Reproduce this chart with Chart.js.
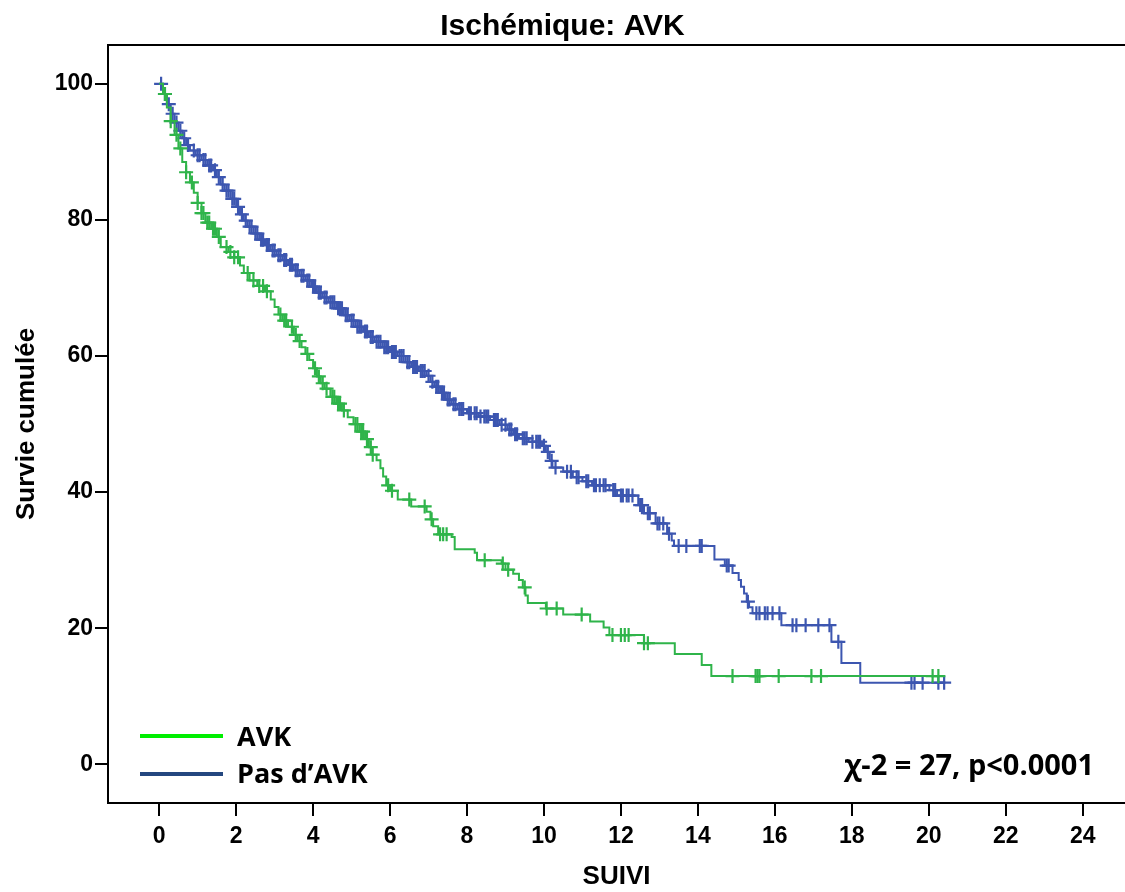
<!DOCTYPE html>
<html>
<head>
<meta charset="utf-8">
<script src="https://cdn.jsdelivr.net/npm/chart.js@4.4.1/dist/chart.umd.min.js"></script>
<style>
  html, body { margin: 0; padding: 0; background: #fff; }
</style>
</head>
<body>
<canvas id="km" width="1125" height="892"></canvas>
<script>
// Kaplan-Meier steps (time in years, survival in %)
const avkTime = [0, 0.1, 0.2, 0.3, 0.4, 0.5, 0.6, 0.7, 0.8, 0.9, 1.0, 1.1, 1.2, 1.35, 1.5, 1.6, 1.8, 1.95,
  2.1, 2.2, 2.35, 2.55, 2.75, 2.9, 3.0, 3.1, 3.2, 3.35, 3.5, 3.6, 3.7, 3.8, 3.9, 4.0, 4.1, 4.2, 4.3, 4.45,
  4.6, 4.75, 4.9, 5.05, 5.2, 5.35, 5.45, 5.52, 5.65, 5.75, 5.82, 5.9, 6.0, 6.2, 6.55, 6.95, 7.05, 7.12,
  7.25, 7.6, 7.68, 8.2, 8.26, 8.9, 9.0, 9.2, 9.35, 9.45, 9.52, 9.58, 10.05, 10.5, 11.2, 11.55, 11.7,
  12.6, 13.4, 14.1, 14.35, 20.25];
const avkSurv = [100, 98.5, 96.5, 94.5, 92.5, 90.5, 88.5, 87, 85.5, 84, 82.5, 81, 79.6, 78.7, 77.5, 76, 75.3, 74.5,
  73.3, 72.2, 71.1, 70.3, 69.5, 68.3, 67.2, 66.1, 65.2, 64.3, 63.1, 62.2, 61.3, 60.3, 59.4, 58.2, 57.0, 56.0, 55.2, 54.0,
  53.0, 52.0, 51.0, 50.0, 48.9, 47.8, 46.6, 45.5, 44.7, 43.5, 42.3, 41.0, 40.2, 38.9, 37.9, 37.1, 36.0, 35.0,
  33.8, 33.4, 31.6, 31.1, 30.0, 29.5, 28.6, 28.0, 27.1, 26.0, 24.8, 23.7, 22.9, 22.0, 21.0, 20.1, 19.0,
  17.8, 16.2, 14.6, 12.97, 12.97];
const avkCensor = [0.15, 0.3, 0.45, 0.55, 0.7, 0.85, 1.0, 1.1, 1.15, 1.25, 1.3, 1.4, 1.45, 1.55, 1.75, 1.85, 1.95,
  2.05, 2.3, 2.45, 2.6, 2.7, 2.8, 3.15, 3.25, 3.3, 3.45, 3.55, 3.65, 3.85, 4.05, 4.15, 4.25, 4.35, 4.5, 4.55,
  4.65, 4.7, 4.8, 5.1, 5.15, 5.25, 5.3, 5.4, 5.5, 5.55, 5.95, 6.05, 6.5, 6.9, 7.08, 7.3, 7.38, 7.47, 8.46,
  8.93, 9.07, 9.5, 10.07, 10.33, 10.98, 11.78, 12.0, 12.1, 12.2, 12.6, 12.7, 14.9, 15.5, 15.55, 15.6, 16.1,
  16.95, 17.2, 20.1, 20.25];

const noAvkTime = [0, 0.1, 0.2, 0.3, 0.4, 0.5, 0.6, 0.7, 0.8, 0.95, 1.1, 1.25, 1.4, 1.5, 1.6, 1.7, 1.85,
  2.0, 2.1, 2.2, 2.3, 2.45, 2.6, 2.75, 2.9, 3.05, 3.2, 3.35, 3.5, 3.65, 3.8, 3.95, 4.1, 4.25, 4.4, 4.6, 4.8,
  4.95, 5.1, 5.3, 5.45, 5.6, 5.8, 6.0, 6.2, 6.4, 6.55, 6.75, 6.95, 7.05, 7.15, 7.3, 7.45, 7.6, 7.75, 8.0,
  8.3, 8.6, 8.85, 9.05, 9.2, 9.35, 9.6, 9.95, 10.05, 10.15, 10.22, 10.5, 10.75, 11.0, 11.25, 11.7, 11.9,
  12.45, 12.6, 12.9, 13.2, 13.32, 13.38, 14.43, 14.7, 14.9, 15.06, 15.12, 15.2, 15.27, 15.33, 15.42,
  16.17, 17.47, 17.73, 18.22, 20.4];
const noAvkSurv = [100, 98.5, 97.0, 95.6, 94.3, 93.1, 92.0, 91.0, 90.2, 89.5, 88.8, 88.0, 87.3, 86.3, 85.2, 84.3, 83.1,
  81.9, 80.8, 79.9, 79.0, 78.0, 77.1, 76.3, 75.5, 74.8, 74.1, 73.4, 72.6, 71.8, 71.1, 70.2, 69.3, 68.6, 67.9, 67.0, 66.0,
  65.2, 64.3, 63.6, 62.8, 62.1, 61.3, 60.6, 60.0, 59.1, 58.4, 57.8, 57.1, 56.2, 55.5, 54.6, 53.6, 52.9, 52.2, 51.6,
  51.1, 50.6, 49.9, 49.2, 48.5, 47.9, 47.4, 46.8, 45.9, 44.6, 43.6, 43.0, 42.2, 41.6, 41.0, 40.3, 39.5,
  38.1, 36.9, 35.4, 33.9, 32.9, 32.1, 30.1, 29.2, 28.1, 27.1, 26.1, 25.1, 23.9, 23.1, 22.2,
  20.45, 18.0, 14.9, 12.0, 12.0];
const noAvkCensor = [0.05, 0.15, 0.25, 0.35, 0.45, 0.55, 0.65, 0.75, 0.9, 1.0, 1.05, 1.15, 1.2, 1.3, 1.35, 1.45,
  1.55, 1.65, 1.75, 1.8, 1.9, 1.95, 2.05, 2.15, 2.25, 2.35, 2.4, 2.5, 2.55, 2.65, 2.7, 2.8, 2.85, 2.95, 3.0,
  3.1, 3.15, 3.25, 3.3, 3.4, 3.45, 3.55, 3.6, 3.7, 3.75, 3.85, 3.9, 4.0, 4.05, 4.15, 4.2, 4.3, 4.35, 4.45,
  4.5, 4.55, 4.65, 4.7, 4.75, 4.85, 4.9, 5.0, 5.05, 5.15, 5.2, 5.25, 5.35, 5.4, 5.5, 5.55, 5.65, 5.7, 5.75,
  5.85, 5.9, 5.95, 6.05, 6.1, 6.15, 6.25, 6.3, 6.35, 6.45, 6.5, 6.6, 6.65, 6.7, 6.8, 6.85, 6.9, 7.0, 7.1,
  7.2, 7.25, 7.35, 7.4, 7.5, 7.55, 7.65, 7.7, 7.8, 7.85, 7.9, 8.05, 8.1, 8.2, 8.25, 8.35, 8.45, 8.5, 8.55,
  8.7, 8.75, 8.8, 8.9, 9.0, 9.1, 9.15, 9.25, 9.3, 9.45, 9.5, 9.55, 9.7, 9.8, 9.85, 9.9, 10.0, 10.1, 10.2,
  10.3, 10.6, 10.7, 10.85, 10.9, 11.1, 11.15, 11.3, 11.35, 11.45, 11.55, 11.6, 11.8, 11.85, 12.0, 12.05,
  12.15, 12.2, 12.3, 12.5, 12.55, 12.7, 12.75, 12.95, 13.0, 13.1, 13.25, 13.5, 13.7, 14.05, 14.1, 14.75,
  14.8, 15.3, 15.52, 15.6, 15.74, 15.81, 15.94, 16.12, 16.46, 16.56, 16.8, 17.13, 17.42, 17.65, 19.55,
  19.63, 19.84, 20.25, 20.4];

const xTicks = [0, 2, 4, 6, 8, 10, 12, 14, 16, 18, 20, 22, 24];
const yTicks = [0, 20, 40, 60, 80, 100];

const GREEN = "#2fb44a";
const BLUE = "#3c56b0";

function steps(times, surv) {
  return times.map((t, i) => ({ x: t, y: surv[i] }));
}

// survival level at a censoring time = last step at or before it
function censorPoints(censor, times, surv) {
  return censor.map((t) => {
    let y = surv[0];
    for (let i = 0; i < times.length; i++) {
      if (times[i] <= t) y = surv[i];
    }
    return { x: t, y: y };
  });
}

const frame = {
  id: "frame",
  afterDraw(chart) {
    const ctx = chart.ctx;
    const a = chart.chartArea;
    ctx.save();
    ctx.strokeStyle = "#000";
    ctx.lineWidth = 2;
    ctx.beginPath();
    ctx.moveTo(a.left, a.top);
    ctx.lineTo(a.right, a.top);
    ctx.stroke();

    // legend inside the plot
    ctx.lineWidth = 4;
    ctx.strokeStyle = "#00ee00";
    ctx.beginPath();
    ctx.moveTo(140, 736);
    ctx.lineTo(223, 736);
    ctx.stroke();
    ctx.strokeStyle = "#24477f";
    ctx.beginPath();
    ctx.moveTo(140, 774);
    ctx.lineTo(223, 774);
    ctx.stroke();

    ctx.fillStyle = "#000";
    ctx.textBaseline = "middle";
    ctx.font = "bold 27px 'Open Sans'";
    ctx.fillText("AVK", 237, 738);
    ctx.fillText("Pas d\u2019AVK", 237, 775);

    ctx.font = "bold 29px 'Open Sans'";
    ctx.textAlign = "right";
    ctx.fillText("\u03c7-2 = 27, p<0.0001", 1094, 767);
    ctx.restore();
  },
};

const tickFont = { family: "'Liberation Sans', Arial", size: 23, weight: "bold" };

new Chart(document.getElementById("km"), {
  type: "line",
  data: {
    datasets: [
      {
        label: "AVK",
        data: steps(avkTime, avkSurv),
        borderColor: GREEN,
        borderWidth: 2,
        stepped: true,
        pointRadius: 0,
        fill: false,
      },
      {
        label: "AVK censor",
        data: censorPoints(avkCensor, avkTime, avkSurv),
        showLine: false,
        pointStyle: "cross",
        pointRadius: 7,
        pointBorderWidth: 2.2,
        pointBorderColor: GREEN,
        borderColor: GREEN,
      },
      {
        label: "Pas d'AVK",
        data: steps(noAvkTime, noAvkSurv),
        borderColor: BLUE,
        borderWidth: 2,
        stepped: true,
        pointRadius: 0,
        fill: false,
      },
      {
        label: "Pas d'AVK censor",
        data: censorPoints(noAvkCensor, noAvkTime, noAvkSurv),
        showLine: false,
        pointStyle: "cross",
        pointRadius: 7,
        pointBorderWidth: 2.2,
        pointBorderColor: BLUE,
        borderColor: BLUE,
      },
    ],
  },
  options: {
    responsive: false,
    devicePixelRatio: 1,
    animation: false,
    layout: { padding: 0, autoPadding: false },
    plugins: {
      legend: { display: false },
      tooltip: { enabled: false },
      title: {
        display: true,
        text: "Ischémique: AVK",
        color: "#000",
        font: { family: "'Liberation Sans', Arial", size: 30, weight: "bold" },
        padding: { top: 9, bottom: 0 },
      },
    },
    scales: {
      x: {
        type: "linear",
        min: -1.33,
        max: 25.1,
        afterFit(scale) { scale.height = 89; },
        afterBuildTicks(scale) { scale.ticks = xTicks.map((v) => ({ value: v })); },
        grid: { drawOnChartArea: false, tickLength: 13, lineWidth: 2, color: "#000" },
        border: { display: true, color: "#000", width: 2 },
        ticks: { color: "#000", font: tickFont, padding: 7, maxRotation: 0 },
        title: {
          display: true,
          text: "SUIVI",
          color: "#000",
          font: { family: "'Liberation Sans', Arial", size: 26, weight: "bold" },
          padding: { top: 0, bottom: 0 },
        },
      },
      y: {
        type: "linear",
        min: -5.68,
        max: 105.7,
        afterFit(scale) { scale.width = 108; },
        afterBuildTicks(scale) { scale.ticks = yTicks.map((v) => ({ value: v })); },
        grid: { drawOnChartArea: false, tickLength: 13, lineWidth: 2, color: "#000" },
        border: { display: true, color: "#000", width: 2 },
        ticks: { color: "#000", font: tickFont, padding: 2 },
        title: {
          display: true,
          text: "Survie cumulée",
          color: "#000",
          font: { family: "'Liberation Sans', Arial", size: 26, weight: "bold" },
          padding: { top: 11, bottom: 0 },
        },
      },
    },
  },
  plugins: [frame],
});
</script>
</body>
</html>
